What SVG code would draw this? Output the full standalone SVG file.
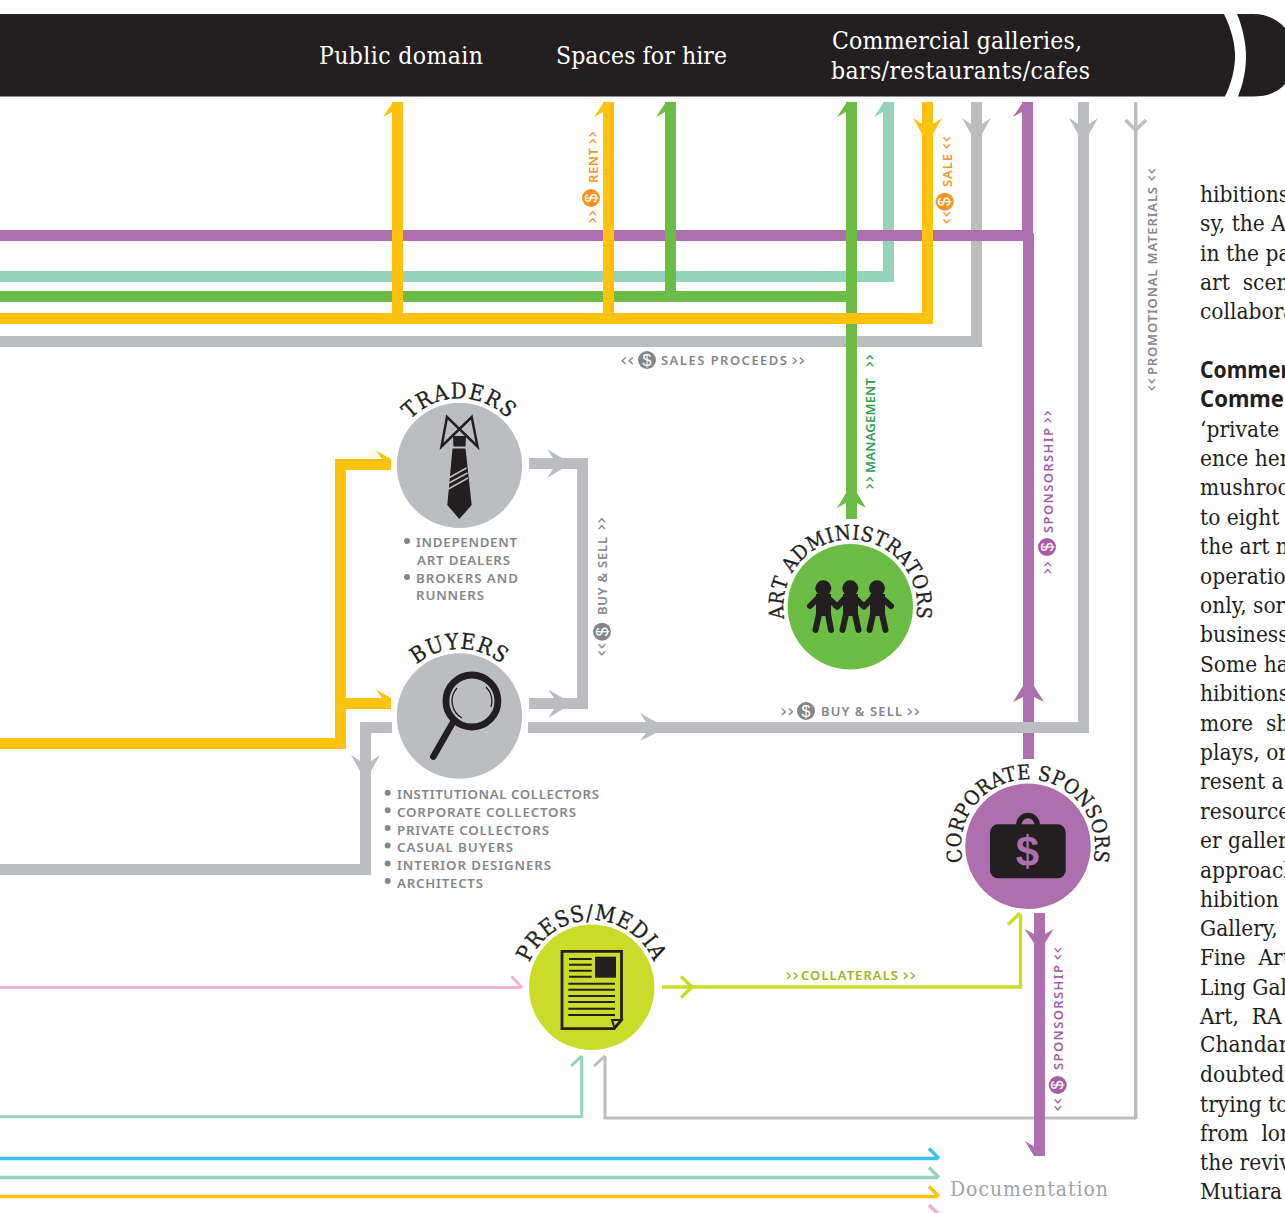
<svg xmlns="http://www.w3.org/2000/svg" width="1285" height="1213" viewBox="0 0 1285 1213">
<style>
.bt{font-family:"DejaVu Serif Condensed","DejaVu Serif","Liberation Serif",serif;font-size:24.5px;fill:#fff}
.arc{font-family:"DejaVu Serif Condensed","DejaVu Serif","Liberation Serif",serif;font-size:22px;fill:#231f20;stroke:#231f20;stroke-width:.3px}
.arcs{font-size:20.3px}
.body{font-family:"DejaVu Serif Condensed","DejaVu Serif","Liberation Serif",serif;font-size:22.5px;fill:#231f20;white-space:pre}
.bold{font-family:"Noto Sans","Open Sans",sans-serif;font-weight:700;font-size:22.5px;fill:#231f20}
.doc{font-family:"DejaVu Serif Condensed","DejaVu Serif",serif;font-size:21px;fill:#a3a4a6}
.lb{font-family:"Noto Sans","Open Sans",sans-serif;font-size:13px;font-weight:600}
.li{font-family:"Noto Sans","Open Sans",sans-serif;font-size:13.3px;font-weight:600;fill:#85868a}
.ch{font-family:"DejaVu Sans",sans-serif;font-size:18.5px;letter-spacing:-.5px}
.dl{font-family:"Liberation Sans",sans-serif;font-size:16px;fill:#fff;text-anchor:middle}
.gr{fill:#85868a}.or{fill:#f7941e}.gn{fill:#2e9e4f}.pu{fill:#a85ca8}.lm{fill:#a2b31f}
.yl{fill:#ffc20e}.pf{fill:#ad6fad}.tl{fill:#96d3bb}.gf{fill:#6cbd45}.gy{fill:#bbbdc0}.lf{fill:#cbdb2a}
.ink{fill:#231f20}
</style>
<defs>
<path id="a-tr" d="M459.500 532.400A67 67 0 1 1 459.500 398.400A67 67 0 1 1 459.500 532.400"/>
<path id="a-bu" d="M459.400 783A67 67 0 1 1 459.400 649A67 67 0 1 1 459.400 783"/>
<path id="a-ad" d="M850.300 673.700A67 67 0 1 1 850.300 539.700A67 67 0 1 1 850.300 673.700"/>
<path id="a-co" d="M1028 913.300A67 67 0 1 1 1028 779.300A67 67 0 1 1 1028 913.300"/>
<path id="a-pr" d="M591.700 1054.300A67 67 0 1 1 591.700 920.300A67 67 0 1 1 591.700 1054.300"/>
</defs>

<g id="header">
<path class="ink" d="M0 14H1224C1232 30 1235 45 1235 56C1235 68 1232 82 1225 96.500H0Z"/>
<path class="ink" d="M1237 14H1253C1270 14 1280 22 1285 28V84C1280 90 1270 96.500 1253 96.500H1238C1244 82 1246 68 1246 56C1246 45 1243 28 1237 14Z"/>
<text class="bt" x="319" y="64" textLength="164">Public domain</text>
<text class="bt" x="556" y="64" textLength="171">Spaces for hire</text>
<text class="bt" x="832" y="49" textLength="250">Commercial galleries,</text>
<text class="bt" x="831" y="79" textLength="259">bars/restaurants/cafes</text>
</g>

<g id="connectors">
<rect class="tl" x="883" y="102" width="11" height="180"/>
<path class="tl" d="M884 102L874 117L883 112Z"/>
<rect class="gy" x="971" y="102" width="11" height="245"/>
<path class="gy" d="M962 118L971 124V134ZM991 118L982 124V134Z"/>
<rect class="pf" x="0" y="230" width="1033" height="11"/>
<rect class="tl" x="0" y="271" width="894" height="11"/>
<rect class="gy" x="0" y="336" width="982" height="11"/>
<rect class="gf" x="0" y="291" width="857" height="11"/>
<rect class="gf" x="665" y="102" width="11" height="200"/>
<path class="gf" d="M666 102L656 117L665 112Z"/>
<rect class="gf" x="846" y="102" width="11" height="417"/>
<path class="gf" d="M847 102L837 117L846 112Z"/>
<path class="gf" d="M837 508L846 503V493ZM866 508L857 503V493Z"/>
<rect class="yl" x="0" y="313" width="933" height="11"/>
<rect class="yl" x="392" y="102" width="11" height="222"/>
<path class="yl" d="M393 102L383 117L392 112Z"/>
<rect class="yl" x="603" y="102" width="11" height="222"/>
<path class="yl" d="M604 102L594 117L603 112Z"/>
<rect class="yl" x="922" y="102" width="11" height="222"/>
<path class="yl" d="M913 118L922 124V134ZM942 118L933 124V134Z"/>
<rect class="pf" x="1022" y="102" width="11" height="139"/>
<path class="pf" d="M1023 102L1013 117L1022 112Z"/>
<rect class="pf" x="1023" y="233" width="11" height="526"/>
<path class="pf" d="M1013 702L1023 697V686ZM1044 702L1034 697V686Z"/>
<rect class="gy" x="1078" y="102" width="11" height="631"/>
<path class="gy" d="M1069 118L1078 124V134ZM1098 118L1089 124V134Z"/>
<rect class="gy" x="1134" y="102" width="3.500" height="1017"/>
<path d="M1125.500 120L1135.700 130L1146 120" fill="none" stroke="#bbbdc0" stroke-width="3.500"/>
<rect class="gy" x="528" y="722" width="561" height="11"/>
<path class="gy" d="M640 713L646 722H656ZM640 741L646 733H656Z"/>
<rect class="yl" x="0" y="738" width="346" height="11"/>
<rect class="yl" x="335" y="459" width="11" height="290"/>
<rect class="yl" x="335" y="459" width="56" height="11"/>
<rect class="yl" x="335" y="698" width="56" height="11"/>
<path class="yl" d="M376 450.500L391 459L382 459ZM376 689.500L391 698L382 698Z"/>
<rect class="gy" x="529" y="458" width="59" height="11"/>
<rect class="gy" x="577" y="458" width="11" height="251"/>
<rect class="gy" x="529" y="698" width="59" height="11"/>
<path class="gy" d="M547 449L553 458H562ZM547 478L553 469H562ZM548 689.500L554 698H563ZM548 718L554 709H563Z"/>
<rect class="gy" x="360" y="722" width="32" height="11"/>
<rect class="gy" x="360" y="722" width="11" height="153"/>
<rect class="gy" x="0" y="864" width="371" height="11"/>
<path class="gy" d="M351 755L360 761V771ZM380 755L371 761V771Z"/>
<path d="M0 987.500H522M511.500 976.500L522 987.500" fill="none" stroke="#f5aecf" stroke-width="3"/>
<path d="M662 987H1020.500V914M681 976.500L692 987L681 997.500M1008 924.500L1020 913" fill="none" stroke="#cbdb2a" stroke-width="3.500"/>
<path d="M0 1116.700H581.700V1056M571 1066L581.700 1056" fill="none" stroke="#96d3bb" stroke-width="3"/>
<path d="M1136 1118H605V1056M594 1066L605 1056" fill="none" stroke="#bbbdc0" stroke-width="3"/>
<rect class="pf" x="1034" y="913" width="11" height="243"/>
<path class="pf" d="M1024.500 929L1034 934V943ZM1053.500 929L1045 934V943ZM1025 1141L1034 1146.500V1156Z"/>
<path d="M0 1158.500H938M929 1148.500L939 1158.500" fill="none" stroke="#3cc4ef" stroke-width="3.500"/>
<path d="M0 1177.500H938M929 1167.500L939 1177.500" fill="none" stroke="#96d3bb" stroke-width="3.500"/>
<path d="M0 1196.500H938M929 1186.500L939 1196.500" fill="none" stroke="#ffc20e" stroke-width="3.500"/>
<path d="M929 1205L939 1215" fill="none" stroke="#f5aecf" stroke-width="3.500"/>
</g>

<g id="connector-labels">
<g transform="translate(598 224) rotate(-90)">
<text class="ch or" x="0" y="0">››</text><circle class="or" cx="26" cy="-7" r="9"/><text class="dl" x="26" y="-1.500">$</text>
<text class="lb or" x="41" y="0" textLength="35">RENT</text><text class="ch or" x="79" y="0">››</text></g>
<g transform="translate(951.700 225) rotate(-90)">
<text class="ch or" x="0" y="0">‹‹</text><circle class="or" cx="23.300" cy="-7" r="9"/><text class="dl" x="23.300" y="-1.500">$</text>
<text class="lb or" x="38" y="0" textLength="33">SALE</text><text class="ch or" x="75" y="0">‹‹</text></g>
<g transform="translate(1157 392) rotate(-90)">
<text class="ch gr" x="0" y="0">‹‹</text><text class="lb gr" x="17" y="0" textLength="188">PROMOTIONAL MATERIALS</text><text class="ch gr" x="210" y="0">‹‹</text></g>
<g transform="translate(875 490) rotate(-90)">
<text class="ch gn" x="0" y="0">››</text><text class="lb gn" x="17" y="0" textLength="95">MANAGEMENT</text><text class="ch gn" x="122" y="0">››</text></g>
<g transform="translate(1053 575) rotate(-90)">
<text class="ch pu" x="0" y="0">››</text><circle class="pu" cx="28" cy="-6" r="9"/><text class="dl" x="28" y="-.500">$</text>
<text class="lb pu" x="42" y="0" textLength="105">SPONSORSHIP</text><text class="ch pu" x="151" y="0">››</text></g>
<g transform="translate(1062.700 1112) rotate(-90)">
<text class="ch pu" x="0" y="0">‹‹</text><circle class="pu" cx="27" cy="-5" r="9"/><text class="dl" x="27" y=".500">$</text>
<text class="lb pu" x="42" y="0" textLength="105">SPONSORSHIP</text><text class="ch pu" x="151" y="0">‹‹</text></g>
<g transform="translate(607 657) rotate(-90)">
<text class="ch gr" x="0" y="0">‹‹</text><circle class="gr" cx="25.300" cy="-5" r="9"/><text class="dl" x="25.300" y=".500">$</text>
<text class="lb gr" x="42" y="0" textLength="78">BUY &amp; SELL</text><text class="ch gr" x="126" y="0">››</text></g>
<text class="ch gr" x="620" y="366">‹‹</text><circle class="gr" cx="647" cy="360" r="9"/><text class="dl" x="647" y="365.500">$</text>
<text class="lb gr" x="661" y="365" textLength="126">SALES PROCEEDS</text><text class="ch gr" x="791" y="366">››</text>
<text class="ch gr" x="780" y="717">››</text><circle class="gr" cx="806" cy="711" r="9"/><text class="dl" x="806" y="716.500">$</text>
<text class="lb gr" x="821" y="716" textLength="81">BUY &amp; SELL</text><text class="ch gr" x="906" y="717">››</text>
<text class="ch lm" x="785" y="981">››</text><text class="lb lm" x="801" y="980" textLength="97">COLLATERALS</text><text class="ch lm" x="902" y="981">››</text>
<text class="doc" x="950" y="1196" textLength="158">Documentation</text>
</g>

<g id="traders">
<circle class="gy" cx="459.500" cy="465.400" r="62.700"/>
<text class="arc" text-anchor="middle" letter-spacing="1.300"><textPath href="#a-tr" startOffset="50%">TRADERS</textPath></text>
<path d="M447 417L441.500 446.500L471.700 417L477.500 446.500Z" fill="none" stroke="#231f20" stroke-width="2.500"/>
<path class="ink" d="M453 436H466L465.500 446.500H453.500ZM452.500 448.500H465.500L471.700 505L459.300 519L447.300 505Z"/>
<path d="M448.500 478L466.500 468M448 483.500L467.500 473M447.500 489.500L468 478" fill="none" stroke="#bbbdc0" stroke-width="1.500"/>
<circle class="li" cx="407" cy="541" r="3"/><circle class="li" cx="407" cy="577" r="3"/>
<text class="li" x="416" y="547" textLength="101">INDEPENDENT</text>
<text class="li" x="417" y="565" textLength="93">ART DEALERS</text>
<text class="li" x="416" y="582.500" textLength="102">BROKERS AND</text>
<text class="li" x="416" y="600" textLength="68">RUNNERS</text>
</g>

<g id="buyers">
<circle class="gy" cx="459.400" cy="716" r="62.700"/>
<text class="arc" text-anchor="middle" letter-spacing="1"><textPath href="#a-bu" startOffset="50%">BUYERS</textPath></text>
<circle cx="471.900" cy="701" r="26" fill="none" stroke="#231f20" stroke-width="6.800"/>
<path d="M452 724L433.300 756.700" fill="none" stroke="#231f20" stroke-width="6.500" stroke-linecap="round"/>
<path d="M462 718A19.500 19.500 0 0 1 457 688M486 687A19.500 19.500 0 0 1 491 707" fill="none" stroke="#231f20" stroke-width="1.300"/>
<circle class="li" cx="387.700" cy="792.700" r="3"/><circle class="li" cx="387.700" cy="810.300" r="3"/><circle class="li" cx="387.700" cy="828" r="3"/><circle class="li" cx="387.700" cy="845.500" r="3"/><circle class="li" cx="387.700" cy="863.500" r="3"/><circle class="li" cx="387.700" cy="881" r="3"/>
<text class="li" x="397" y="799" textLength="202">INSTITUTIONAL COLLECTORS</text>
<text class="li" x="397" y="816.800" textLength="179">CORPORATE COLLECTORS</text>
<text class="li" x="397" y="834.500" textLength="152">PRIVATE COLLECTORS</text>
<text class="li" x="397" y="852" textLength="116">CASUAL BUYERS</text>
<text class="li" x="397" y="870" textLength="154">INTERIOR DESIGNERS</text>
<text class="li" x="397" y="887.500" textLength="86">ARCHITECTS</text>
</g>

<g id="art-administrators">
<circle class="gf" cx="850.300" cy="606.700" r="62.700"/>
<text class="arc arcs" text-anchor="middle" letter-spacing=".5"><textPath href="#a-ad" startOffset="50%">ART ADMINISTRATORS</textPath></text>
<circle class="ink" cx="823.300" cy="588.300" r="8"/><circle class="ink" cx="850.300" cy="588.300" r="8"/><circle class="ink" cx="877" cy="588.300" r="8"/>
<path class="ink" d="M816 594H831V616H816ZM843 594H858V616H843ZM870 594H885V616H870Z"/>
<path d="M810 606L819 597H827L837.300 606.700L846 597H854L864 606.700L873 597H881L891 606M819 614L815.500 630M828 614L831 630M846 614L842.500 630M855 614L858.500 630M873 614L869.500 630M882 614L885.500 630" fill="none" stroke="#231f20" stroke-width="6" stroke-linecap="round" stroke-linejoin="round"/>
</g>

<g id="corporate-sponsors">
<circle class="pf" cx="1028" cy="846.300" r="62.700"/>
<text class="arc arcs" text-anchor="middle" letter-spacing=".3"><textPath href="#a-co" startOffset="50%">CORPORATE SPONSORS</textPath></text>
<path d="M1018.700 826C1018.700 812 1037.300 812 1037.300 826" fill="none" stroke="#231f20" stroke-width="5.500"/>
<rect class="ink" x="990" y="824.300" width="75.700" height="54" rx="8"/>
<text x="1027.500" y="866" font-family="Liberation Sans,sans-serif" font-weight="700" font-size="42" text-anchor="middle" fill="#ad6fad">$</text>
</g>

<g id="press-media">
<circle class="lf" cx="591.700" cy="987.300" r="62.700"/>
<text class="arc" text-anchor="middle" letter-spacing="1"><textPath href="#a-pr" startOffset="50%">PRESS/MEDIA</textPath></text>
<path d="M562 951.300H621.500V1020L614 1028.700H562Z" fill="none" stroke="#231f20" stroke-width="2.800"/>
<path d="M612 1020H621.500L614.500 1028Z" fill="none" stroke="#231f20" stroke-width="2"/>
<rect class="ink" x="595" y="956.700" width="21" height="21"/>
<path d="M569 959H591.700M569 964.700H591.700M569 970.700H591.700M569 976.700H591.700M568.300 983.700H615M568.300 989.700H615M568.300 996H615M568.300 1002H615M568.300 1008.700H615M568.300 1015H615" fill="none" stroke="#231f20" stroke-width="2"/>
</g>

<g id="article-text">
<text class="body" x="1200" y="202">hibitions</text>
<text class="body" x="1200" y="231">sy, the A</text>
<text class="body" x="1200" y="260.500">in the pa</text>
<text class="body" x="1200" y="290">art  scen</text>
<text class="body" x="1200" y="319">collabora</text>
<text class="bold" x="1200" y="378" textLength="90" lengthAdjust="spacingAndGlyphs">Commer</text>
<text class="bold" x="1200" y="407" textLength="84" lengthAdjust="spacingAndGlyphs">Comme</text>
<text class="body" x="1200" y="436.500">‘private</text>
<text class="body" x="1200" y="466">ence her</text>
<text class="body" x="1200" y="495">mushroo</text>
<text class="body" x="1200" y="524.500">to eight y</text>
<text class="body" x="1200" y="554">the art m</text>
<text class="body" x="1200" y="583.500">operatio</text>
<text class="body" x="1200" y="613">only, sor</text>
<text class="body" x="1200" y="642">business</text>
<text class="body" x="1200" y="671.500">Some ha</text>
<text class="body" x="1200" y="701">hibitions</text>
<text class="body" x="1200" y="730.500">more  sh</text>
<text class="body" x="1200" y="760">plays, or</text>
<text class="body" x="1200" y="789">resent a</text>
<text class="body" x="1200" y="818.500">resource</text>
<text class="body" x="1200" y="848">er galleri</text>
<text class="body" x="1200" y="877.500">approach</text>
<text class="body" x="1200" y="907">hibition</text>
<text class="body" x="1200" y="936">Gallery,</text>
<text class="body" x="1200" y="965">Fine  Art</text>
<text class="body" x="1200" y="994.500">Ling Gal</text>
<text class="body" x="1200" y="1024">Art,  RA</text>
<text class="body" x="1200" y="1052">Chandar</text>
<text class="body" x="1200" y="1082">doubted</text>
<text class="body" x="1200" y="1111.500">trying to</text>
<text class="body" x="1200" y="1141">from  lor</text>
<text class="body" x="1200" y="1170">the reviv</text>
<text class="body" x="1200" y="1199">Mutiara</text>
</g>
</svg>
